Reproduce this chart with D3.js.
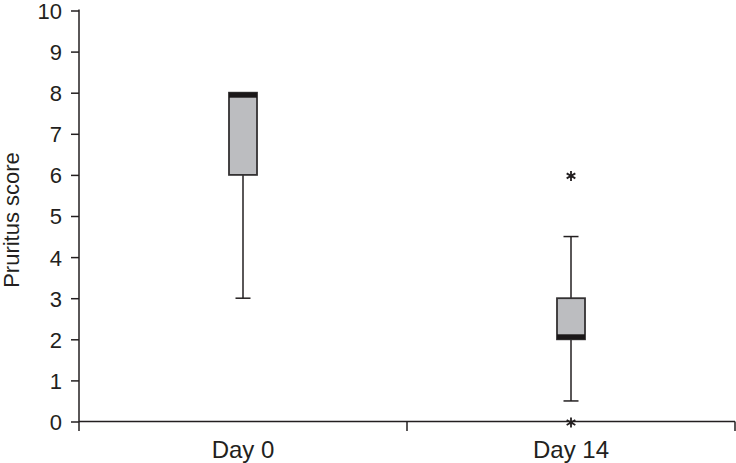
<!DOCTYPE html>
<html>
<head>
<meta charset="utf-8">
<script src="https://cdn.jsdelivr.net/npm/d3@7"></script>
<style>
  body { margin: 0; background: #fff; }
  text { font-family: "Liberation Sans", Arial, sans-serif; fill: #231f20; }
</style>
</head>
<body>
<svg id="chart" width="736" height="463"></svg>
<script>
const categories = ['Day 0', 'Day 14'];
const lowWhisker = [3, 0.5];
const q1 = [6, 2];
const median = [8, 2];
const q3 = [8, 3];
const highWhisker = [8, 4.5];
const outliers = [[], [6, 0]];
const yTicks = [0, 1, 2, 3, 4, 5, 6, 7, 8, 9, 10];

const ink = '#231f20';
const plotLeft = 79;
const plotRight = 735;
const plotTop = 10.5;
const plotBottom = 421.5;
const boxWidth = 28;
const capWidth = 15;
const medianThickness = 5;

const svg = d3.select('#chart');

const xScale = d3.scaleBand()
  .domain(categories)
  .range([plotLeft, plotRight]);

const yScale = d3.scaleLinear()
  .domain([0, 10])
  .range([plotBottom, plotTop]);

// y axis
const yAxis = svg.append('g')
  .attr('transform', `translate(${plotLeft}, 0)`)
  .call(d3.axisLeft(yScale).tickValues(yTicks).tickSize(8).tickPadding(9));
yAxis.select('.domain').remove();
yAxis.selectAll('line').attr('stroke', ink).attr('stroke-width', 1.5);
yAxis.selectAll('text')
  .style('font-size', '22px')
  .attr('dy', '0.36em')
  .attr('fill', ink);
yAxis.append('line')
  .attr('x1', 0).attr('x2', 0)
  .attr('y1', plotTop - 1).attr('y2', plotBottom + 9.5)
  .attr('stroke', ink).attr('stroke-width', 1.5);

// x axis
const xAxis = svg.append('g');
xAxis.append('line')
  .attr('x1', plotLeft).attr('x2', plotRight)
  .attr('y1', plotBottom).attr('y2', plotBottom)
  .attr('stroke', ink).attr('stroke-width', 1.5);
const bandEdges = categories.slice(1).map(c => xScale(c)).concat([plotRight]);
xAxis.selectAll('.xtick')
  .data(bandEdges)
  .enter()
  .append('line')
  .attr('x1', d => d).attr('x2', d => d)
  .attr('y1', plotBottom).attr('y2', plotBottom + 9.5)
  .attr('stroke', ink).attr('stroke-width', 1.5);
xAxis.selectAll('.xlabel')
  .data(categories)
  .enter()
  .append('text')
  .attr('x', d => xScale(d) + xScale.bandwidth() / 2)
  .attr('y', 458)
  .attr('text-anchor', 'middle')
  .style('font-size', '24px')
  .text(d => d);

// y title
svg.append('text')
  .attr('transform', `translate(19, ${(plotTop + plotBottom) / 2 + 4}) rotate(-90)`)
  .attr('text-anchor', 'middle')
  .style('font-size', '22px')
  .text('Pruritus score');

// boxes
const boxes = svg.selectAll('.box')
  .data(categories)
  .enter()
  .append('g')
  .attr('class', 'box')
  .attr('transform', d => `translate(${xScale(d) + xScale.bandwidth() / 2}, 0)`);

boxes.append('line')
  .attr('x1', 0).attr('x2', 0)
  .attr('y1', (d, i) => yScale(lowWhisker[i]))
  .attr('y2', (d, i) => yScale(highWhisker[i]))
  .attr('stroke', ink).attr('stroke-width', 1.5);

boxes.each(function (d, i) {
  const g = d3.select(this);
  [lowWhisker[i], highWhisker[i]].forEach(v => {
    if (v < q1[i] || v > q3[i]) {
      g.append('line')
        .attr('x1', -capWidth / 2).attr('x2', capWidth / 2)
        .attr('y1', yScale(v)).attr('y2', yScale(v))
        .attr('stroke', ink).attr('stroke-width', 1.5);
    }
  });
});

boxes.append('rect')
  .attr('x', -boxWidth / 2)
  .attr('width', boxWidth)
  .attr('y', (d, i) => yScale(q3[i]))
  .attr('height', (d, i) => yScale(q1[i]) - yScale(q3[i]))
  .attr('fill', '#bcbdc0')
  .attr('stroke', '#333132')
  .attr('stroke-width', 1.8);

boxes.append('rect')
  .attr('x', -boxWidth / 2)
  .attr('width', boxWidth)
  .attr('y', (d, i) => {
    const yTop = yScale(q3[i]);
    const yBot = yScale(q1[i]);
    const ym = yScale(median[i]) - medianThickness / 2;
    return Math.min(Math.max(ym, yTop), yBot - medianThickness);
  })
  .attr('height', medianThickness)
  .attr('fill', '#1a1718');

// outliers
boxes.each(function (d, i) {
  d3.select(this).selectAll('.outlier')
    .data(outliers[i])
    .enter()
    .append('path')
    .attr('class', 'outlier')
    .attr('transform', v => `translate(0, ${yScale(v) + 1})`)
    .attr('d', d3.symbol().type(d3.symbolAsterisk).size(70))
    .attr('fill', 'none')
    .attr('stroke', ink)
    .attr('stroke-width', 1.8);
});
</script>
</body>
</html>
